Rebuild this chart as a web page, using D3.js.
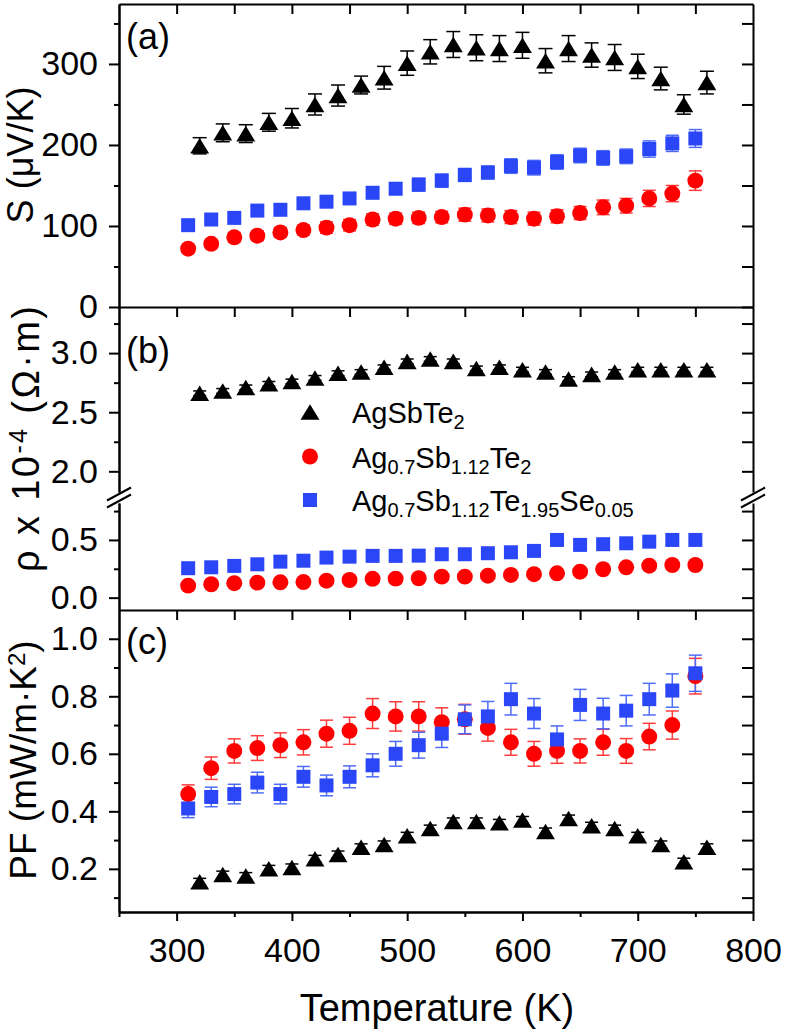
<!DOCTYPE html>
<html>
<head>
<meta charset="utf-8">
<script src="https://cdn.jsdelivr.net/npm/d3@7"></script>
<style>
body { margin: 0; background: #fff; }
svg text { font-family: "Liberation Sans", Arial, sans-serif; fill: #000; }
</style>
</head>
<body>
<div id="chart"></div>
<script>
// temperatures (K)
var tempAg = [320, 340, 360, 380, 400, 420, 440, 460, 480, 500, 520, 540, 560, 580, 600, 620, 640, 660, 680, 700, 720, 740, 760];
var tempDoped = [310, 330, 350, 370, 390, 410, 430, 450, 470, 490, 510, 530, 550, 570, 590, 610, 630, 650, 670, 690, 710, 730, 750];

// (a) Seebeck coefficient (uV/K)
var seebeckAg = [199, 215, 214, 228, 233, 250, 261, 274, 283, 301, 315, 324, 320, 319, 323, 304, 319, 311, 308, 297, 282, 250, 277];
var seebeckAgErr = [10, 11, 11, 11, 12, 13, 13, 11, 14, 15, 15, 16, 16, 16, 16, 15, 16, 15, 16, 15, 14, 12, 14];
var seebeckSb = [72, 78, 86, 88, 92, 95, 98, 101, 108, 109, 110, 111, 114, 113, 111, 109, 112, 116, 123, 125, 134, 140, 156];
var seebeckSbErr = [5, 5, 6, 6, 6, 6, 7, 7, 7, 7, 7, 7, 8, 8, 8, 8, 8, 8, 9, 9, 10, 10, 12];
var seebeckSe = [101, 108, 110, 119, 120, 128, 130, 134, 141, 146, 151, 156, 163, 166, 174, 172, 179, 187, 184, 186, 195, 202, 208];
var seebeckSeErr = [5, 5, 6, 6, 6, 6, 7, 7, 7, 7, 8, 8, 8, 8, 9, 9, 9, 9, 9, 9, 10, 10, 11];

// (b) resistivity x 10^-4 (Ohm m)
var rhoAg = [2.66, 2.68, 2.71, 2.74, 2.76, 2.79, 2.83, 2.84, 2.88, 2.93, 2.95, 2.93, 2.87, 2.88, 2.86, 2.84, 2.78, 2.82, 2.84, 2.86, 2.86, 2.86, 2.86];
var rhoAgErr = [0.02, 0.02, 0.02, 0.02, 0.02, 0.02, 0.02, 0.02, 0.02, 0.02, 0.02, 0.02, 0.02, 0.02, 0.02, 0.02, 0.02, 0.02, 0.02, 0.02, 0.02, 0.02, 0.02];
var rhoSb = [0.104, 0.116, 0.125, 0.13, 0.133, 0.135, 0.147, 0.153, 0.163, 0.165, 0.168, 0.182, 0.182, 0.19, 0.197, 0.203, 0.211, 0.225, 0.246, 0.263, 0.277, 0.283, 0.283];
var rhoSe = [0.255, 0.263, 0.275, 0.289, 0.312, 0.32, 0.347, 0.355, 0.362, 0.362, 0.364, 0.376, 0.376, 0.385, 0.393, 0.405, 0.5, 0.457, 0.463, 0.471, 0.485, 0.5, 0.5];

// (c) power factor (mW/m K^2)
var pfAg = [0.155, 0.18, 0.175, 0.2, 0.205, 0.235, 0.25, 0.275, 0.285, 0.315, 0.34, 0.365, 0.365, 0.36, 0.37, 0.33, 0.375, 0.35, 0.34, 0.315, 0.285, 0.225, 0.275];
var pfAgErr = [0.012, 0.012, 0.012, 0.012, 0.012, 0.012, 0.012, 0.012, 0.012, 0.012, 0.012, 0.012, 0.012, 0.012, 0.012, 0.012, 0.012, 0.012, 0.012, 0.012, 0.012, 0.012, 0.012];
var pfSb = [0.46, 0.55, 0.61, 0.62, 0.63, 0.64, 0.67, 0.68, 0.74, 0.73, 0.73, 0.71, 0.72, 0.69, 0.64, 0.60, 0.61, 0.61, 0.64, 0.61, 0.66, 0.70, 0.87];
var pfSbErr = [0.032, 0.039, 0.042, 0.043, 0.043, 0.044, 0.047, 0.047, 0.052, 0.051, 0.051, 0.05, 0.052, 0.046, 0.045, 0.043, 0.043, 0.042, 0.045, 0.043, 0.046, 0.049, 0.062];
var pfSe = [0.41, 0.45, 0.46, 0.50, 0.46, 0.52, 0.49, 0.52, 0.56, 0.60, 0.63, 0.67, 0.72, 0.73, 0.79, 0.74, 0.65, 0.77, 0.74, 0.75, 0.79, 0.82, 0.88];
var pfSeErr = [0.032, 0.034, 0.034, 0.036, 0.034, 0.036, 0.036, 0.038, 0.04, 0.043, 0.045, 0.048, 0.05, 0.052, 0.055, 0.052, 0.047, 0.054, 0.053, 0.053, 0.055, 0.058, 0.063];

var xTicks = [300, 400, 500, 600, 700, 800];
var xMinor = [250, 350, 450, 550, 650, 750];
var xTopTicks = [300, 350, 400, 450, 500, 550, 600, 650, 700, 750];

var red = "#ff0000", blue = "#2a46f6", black = "#000";

var svg = d3.select("#chart").append("svg")
    .attr("width", 785)
    .attr("height", 1030);

var left = 119, right = 753;
var x = d3.scaleLinear().domain([250, 800]).range([left, right]);

var yA = d3.scaleLinear().domain([0, 374]).range([307, 4]);
var yBup = d3.scaleLinear().domain([1.825, 3.39]).range([492, 307]);
var yBlo = d3.scaleLinear().domain([-0.107, 0.82]).range([610, 503]);
var yC = d3.scaleLinear().domain([0.05, 1.1]).range([912, 610]);

// triangle centred on its bounding box
var triangle = {
    draw: function(context, size) {
        var s = Math.sqrt(size * 4 / Math.sqrt(3));
        var h = s * 0.82;
        context.moveTo(0, -h / 2);
        context.lineTo(s / 2, h / 2);
        context.lineTo(-s / 2, h / 2);
        context.closePath();
    }
};

function styleAxis(g) {
    g.selectAll("path, line").attr("stroke", "#000").attr("stroke-width", 2);
    g.selectAll("text").attr("font-size", 34).attr("font-family", "Liberation Sans, Arial, sans-serif");
}

function yAxes(scale, major, minor, fmt) {
    svg.append("g").attr("transform", "translate(" + left + ",0)")
        .call(d3.axisLeft(scale).tickValues(major).tickSize(10).tickSizeOuter(0).tickPadding(11).tickFormat(fmt))
        .call(styleAxis);
    svg.append("g").attr("transform", "translate(" + left + ",0)")
        .call(d3.axisLeft(scale).tickValues(minor).tickSize(5).tickSizeOuter(0).tickFormat(""))
        .call(styleAxis);
    // right side, ticks pointing in
    svg.append("g").attr("transform", "translate(" + right + ",0)")
        .call(d3.axisLeft(scale).tickValues(major.concat(minor)).tickSize(11).tickSizeOuter(0).tickFormat(""))
        .call(styleAxis);
}

function topTicks(yPos) {
    svg.append("g").attr("transform", "translate(0," + yPos + ")")
        .call(d3.axisBottom(x).tickValues(xTopTicks).tickSize(10).tickSizeOuter(0).tickFormat(""))
        .call(styleAxis);
}

function errorBars(scale, xs, ys, errs, color, capW) {
    var g = svg.append("g").attr("stroke", color).attr("stroke-width", 1.5);
    xs.forEach(function(t, i) {
        var cx = x(t), y1 = scale(ys[i] - errs[i]), y2 = scale(ys[i] + errs[i]);
        g.append("line").attr("x1", cx).attr("x2", cx).attr("y1", y1).attr("y2", y2);
        g.append("line").attr("x1", cx - capW / 2).attr("x2", cx + capW / 2).attr("y1", y1).attr("y2", y1);
        g.append("line").attr("x1", cx - capW / 2).attr("x2", cx + capW / 2).attr("y1", y2).attr("y2", y2);
    });
}

function markers(scale, xs, ys, type, size, color) {
    svg.append("g").selectAll("path")
        .data(xs)
        .join("path")
        .attr("transform", (d, i) => "translate(" + x(d) + "," + scale(ys[i]) + ")")
        .attr("d", d3.symbol().type(type).size(size))
        .attr("fill", color);
}

var triSize = 155, dotSize = 200, sqSize = 196;

// panel (a)
topTicks(4);
yAxes(yA, [0, 100, 200, 300], [50, 150, 250, 350], d3.format("d"));
errorBars(yA, tempAg, seebeckAg, seebeckAgErr, black, 14);
errorBars(yA, tempDoped, seebeckSb, seebeckSbErr, "#ff3b3b", 13);
errorBars(yA, tempDoped, seebeckSe, seebeckSeErr, "#4f6cf8", 13);
markers(yA, tempAg, seebeckAg, triangle, triSize, black);
markers(yA, tempDoped, seebeckSb, d3.symbolCircle, dotSize, red);
markers(yA, tempDoped, seebeckSe, d3.symbolSquare, sqSize, blue);

// panel (b), broken axis
topTicks(307);
yAxes(yBup, [2.0, 2.5, 3.0], [2.25, 2.75, 3.25], d3.format(".1f"));
yAxes(yBlo, [0.0, 0.5], [0.25, 0.75], d3.format(".1f"));
[left, right].forEach(function(ax) {
    [-3.5, 3.5].forEach(function(off) {
        svg.append("line")
            .attr("x1", ax - 12).attr("y1", 504 + off)
            .attr("x2", ax + 12).attr("y2", 491 + off)
            .attr("stroke", "#000").attr("stroke-width", 2);
    });
});
errorBars(yBup, tempAg, rhoAg, rhoAgErr, black, 13);
markers(yBup, tempAg, rhoAg, triangle, triSize, black);
markers(yBlo, tempDoped, rhoSb, d3.symbolCircle, dotSize, red);
markers(yBlo, tempDoped, rhoSe, d3.symbolSquare, sqSize, blue);

// panel (c)
topTicks(610);
yAxes(yC, [0.2, 0.4, 0.6, 0.8, 1.0], [0.1, 0.3, 0.5, 0.7, 0.9], d3.format(".1f"));
errorBars(yC, tempAg, pfAg, pfAgErr, black, 13);
errorBars(yC, tempDoped, pfSb, pfSbErr, "#ff3b3b", 13);
errorBars(yC, tempDoped, pfSe, pfSeErr, "#4f6cf8", 13);
markers(yC, tempAg, pfAg, triangle, triSize, black);
markers(yC, tempDoped, pfSb, d3.symbolCircle, dotSize, red);
markers(yC, tempDoped, pfSe, d3.symbolSquare, sqSize, blue);

// bottom axis
svg.append("g").attr("transform", "translate(0,912)")
    .call(d3.axisBottom(x).tickValues(xTicks).tickSize(9).tickSizeOuter(0).tickPadding(17).tickFormat(d3.format("d")))
    .call(styleAxis);
svg.append("g").attr("transform", "translate(0,912)")
    .call(d3.axisBottom(x).tickValues(xMinor).tickSize(5).tickSizeOuter(0).tickFormat(""))
    .call(styleAxis);

// panel letters
svg.append("text").attr("x", 126).attr("y", 49).attr("font-size", 36).text("(a)");
svg.append("text").attr("x", 126).attr("y", 363).attr("font-size", 36).text("(b)");
svg.append("text").attr("x", 126).attr("y", 654).attr("font-size", 36).text("(c)");

// axis titles
svg.append("text").attr("x", 437).attr("y", 1021).attr("font-size", 38)
    .attr("text-anchor", "middle").text("Temperature (K)");

svg.append("text").attr("transform", "translate(33,155) rotate(-90)")
    .attr("font-size", 36).attr("text-anchor", "middle")
    .text("S (μV/K)");

var rhoLabel = svg.append("text").attr("transform", "translate(39,439) rotate(-90)")
    .attr("font-size", 38).attr("text-anchor", "middle")
    .attr("textLength", 266).attr("lengthAdjust", "spacing");
rhoLabel.append("tspan").text("ρ x 10");
rhoLabel.append("tspan").attr("font-size", 25).attr("dy", -12).text("-4");
rhoLabel.append("tspan").attr("dy", 12).text(" (Ω·m)");

var pfLabel = svg.append("text").attr("transform", "translate(36,760) rotate(-90)")
    .attr("font-size", 37).attr("text-anchor", "middle");
pfLabel.append("tspan").text("PF (mW/m·K");
pfLabel.append("tspan").attr("font-size", 24).attr("dy", -11).text("2");
pfLabel.append("tspan").attr("dy", 11).text(")");

// legend
var legend = [
    {type: triangle, color: black, size: triSize, parts: [["AgSbTe", 0], ["2", 1]]},
    {type: d3.symbolCircle, color: red, size: dotSize, parts: [["Ag", 0], ["0.7", 1], ["Sb", 0], ["1.12", 1], ["Te", 0], ["2", 1]]},
    {type: d3.symbolSquare, color: blue, size: sqSize, parts: [["Ag", 0], ["0.7", 1], ["Sb", 0], ["1.12", 1], ["Te", 0], ["1.95", 1], ["Se", 0], ["0.05", 1]]}
];
var legendY = [412, 456.5, 500];
legend.forEach(function(item, i) {
    svg.append("path")
        .attr("transform", "translate(310," + legendY[i] + ")")
        .attr("d", d3.symbol().type(item.type).size(item.size))
        .attr("fill", item.color);
    var t = svg.append("text").attr("x", 352).attr("y", legendY[i] + 11).attr("font-size", 29);
    var sub = false;
    item.parts.forEach(function(p) {
        var span = t.append("tspan").text(p[0]);
        if (p[1] && !sub) { span.attr("font-size", 20).attr("dy", 6); sub = true; }
        else if (!p[1] && sub) { span.attr("dy", -6); sub = false; }
        else if (p[1]) { span.attr("font-size", 20); }
    });
});
</script>
</body>
</html>
